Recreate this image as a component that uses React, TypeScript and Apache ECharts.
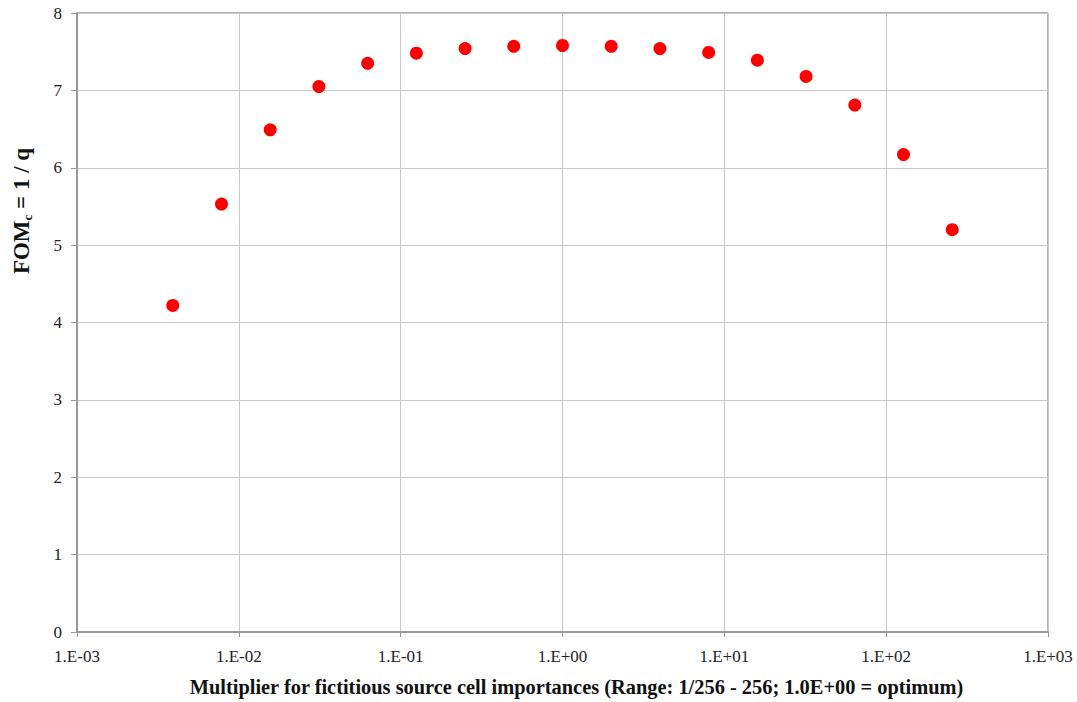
import React, { useEffect, useRef } from "react";
import * as echarts from "echarts";

const multipliers = [
  0.00390625, 0.0078125, 0.015625, 0.03125, 0.0625, 0.125, 0.25, 0.5, 1, 2, 4,
  8, 16, 32, 64, 128, 256,
];
const fomValues = [
  4.22, 5.53, 6.49, 7.05, 7.35, 7.48, 7.54, 7.57, 7.58, 7.57, 7.54, 7.49, 7.39,
  7.18, 6.81, 6.17, 5.2,
];
const yTicks = [0, 1, 2, 3, 4, 5, 6, 7, 8];
const xTitle =
  "Multiplier for fictitious source cell importances (Range: 1/256 - 256; 1.0E+00 = optimum)";

const FONT = "'Liberation Serif', 'Times New Roman', serif";

function fmtExp(v: number): string {
  const e = Math.round(Math.log10(v));
  const sign = e < 0 ? "-" : "+";
  const a = Math.abs(e);
  return "1.E" + sign + (a < 10 ? "0" + a : String(a));
}

export default function App() {
  const ref = useRef<HTMLDivElement>(null);
  useEffect(() => {
    if (!ref.current) return;
    const chart = echarts.init(ref.current, undefined, { renderer: "svg" });
    chart.setOption({
      animation: false,
      backgroundColor: "#ffffff",
      textStyle: { fontFamily: FONT },
      grid: {
        left: 77,
        right: 29,
        top: 13,
        bottom: 63,
        show: true,
        borderColor: "#666",
        borderWidth: 1,
        backgroundColor: "transparent",
      },
      graphic: [
        {
          type: "text",
          x: 21,
          y: 211,
          rotation: Math.PI / 2,
          style: {
            text: "{a|FOM}{b|c}{a| = 1 / q}",
            align: "center",
            verticalAlign: "middle",
            rich: {
              a: {
                fontFamily: FONT,
                fontWeight: "bold",
                fontSize: 23,
                fill: "#111",
                lineHeight: 26,
                verticalAlign: "middle",
              },
              b: {
                fontFamily: FONT,
                fontWeight: "bold",
                fontSize: 13,
                fill: "#111",
                lineHeight: 26,
                verticalAlign: "bottom",
              },
            },
          },
        },
      ],
      xAxis: {
        type: "log",
        logBase: 10,
        min: 0.001,
        max: 1000,
        name: xTitle,
        nameLocation: "middle",
        nameGap: 45,
        nameTextStyle: {
          fontFamily: FONT,
          fontWeight: "bold",
          fontSize: 20.4,
          color: "#111",
          padding: [0, 0, 0, 28],
        },
        axisLine: { show: true, lineStyle: { color: "#999", width: 2 } },
        axisTick: { show: true, length: 5, lineStyle: { color: "#999" } },
        axisLabel: {
          fontFamily: FONT,
          fontSize: 17,
          color: "#222",
          margin: 16,
          formatter: (v: number) => fmtExp(v),
        },
        splitLine: { show: true, lineStyle: { color: "#c8c8c8", width: 1 } },
        minorTick: { show: false },
        minorSplitLine: { show: false },
      },
      yAxis: {
        type: "value",
        min: yTicks[0],
        max: yTicks[yTicks.length - 1],
        interval: 1,
        axisLine: { show: true, lineStyle: { color: "#999", width: 2 } },
        axisTick: { show: true, length: 6, lineStyle: { color: "#999" } },
        axisLabel: {
          fontFamily: FONT,
          fontSize: 17,
          color: "#222",
          margin: 15,
        },
        splitLine: { show: true, lineStyle: { color: "#c8c8c8", width: 1 } },
      },
      series: [
        {
          type: "scatter",
          data: multipliers.map((m, i) => [m, fomValues[i]]),
          symbol: "circle",
          symbolSize: 13,
          itemStyle: { color: "#ff0000", opacity: 1 },
        },
      ],
    });
    return () => chart.dispose();
  }, []);
  return (
    <div
      ref={ref}
      style={{ position: "fixed", left: 0, top: 0, width: 1077, height: 702 }}
    />
  );
}
